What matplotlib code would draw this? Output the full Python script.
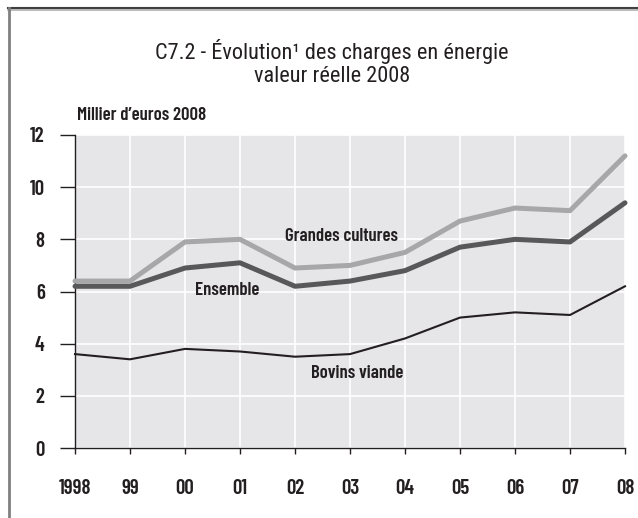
import matplotlib
matplotlib.use("Agg")
import matplotlib.pyplot as plt
from matplotlib.lines import Line2D

years = [1998, 1999, 2000, 2001, 2002, 2003, 2004, 2005, 2006, 2007, 2008]
year_labels = ["1998", "99", "00", "01", "02", "03", "04", "05", "06", "07", "08"]
grandes_cultures = [6.4, 6.4, 7.9, 8.0, 6.9, 7.0, 7.5, 8.7, 9.2, 9.1, 11.2]
ensemble = [6.2, 6.2, 6.9, 7.1, 6.2, 6.4, 6.8, 7.7, 8.0, 7.9, 9.4]
bovins_viande = [3.6, 3.4, 3.8, 3.7, 3.5, 3.6, 4.2, 5.0, 5.2, 5.1, 6.2]
y_ticks = [0, 2, 4, 6, 8, 10, 12]

W, H = 638, 518
fig = plt.figure(figsize=(W / 100, H / 100), dpi=100)
fig.patch.set_facecolor("white")

bold_font = ["Barlow Condensed", "DejaVu Sans"]
title_font = ["Roboto Condensed", "DejaVu Sans"]
ink = "#231f20"

x0, x1 = 75, 625
ytop, ybot = 135, 448
ax = fig.add_axes([x0 / W, (H - ybot) / H, (x1 - x0) / W, (ybot - ytop) / H])
ax.set_facecolor("#e6e6e8")
ax.set_xlim(1998, 2008)
ax.set_ylim(0, 12)
ax.set_xticks(years)
ax.set_xticklabels(year_labels)
ax.set_yticks(y_ticks)
for s in ["top", "right"]:
    ax.spines[s].set_visible(False)
for s in ["left", "bottom"]:
    ax.spines[s].set_color(ink)
    ax.spines[s].set_linewidth(1.0)
ax.grid(True, color="white", linewidth=1.2)
ax.set_axisbelow(True)
ax.tick_params(axis="y", direction="out", length=10.8, width=1.0, color=ink, pad=11)
ax.tick_params(axis="x", direction="out", length=4.3, width=1.0, color=ink, pad=18)
for lab in ax.get_xticklabels() + ax.get_yticklabels():
    lab.set_fontfamily(bold_font)
    lab.set_fontweight(600)
    lab.set_fontsize(15)
    lab.set_color(ink)

ax.plot(years, grandes_cultures, color="#a7a7a9", linewidth=3.6, solid_capstyle="round", clip_on=False, zorder=3)
ax.plot(years, ensemble, color="#58585a", linewidth=3.6, solid_capstyle="round", clip_on=False, zorder=4)
ax.plot(years, bovins_viande, color=ink, linewidth=1.5, clip_on=False, zorder=5)

lab_kw = dict(fontfamily=bold_font, fontweight=600, fontsize=13.5, color=ink, ha="center", va="center")
ax.text(2002.85, 8.1, "Grandes cultures", **lab_kw)
ax.text(2000.76, 6.05, "Ensemble", **lab_kw)
ax.text(2003.13, 2.84, "Bovins viande", **lab_kw)

fig.text(332 / W, 1 - 51 / H, "C7.2 - Évolution\u00b9 des charges en énergie", ha="center", va="center",
         fontsize=16, fontfamily=title_font, color=ink)
fig.text(332 / W, 1 - 76 / H, "valeur réelle 2008", ha="center", va="center",
         fontsize=16, fontfamily=title_font, color=ink)
fig.text(77 / W, 1 - 115 / H, "Millier d\u2019euros 2008", ha="left", va="center",
         fontsize=13.5, fontweight=600, fontfamily=bold_font, color=ink)

fig.add_artist(Line2D([8 / W, 1], [1 - 9.5 / H, 1 - 9.5 / H], color="#b0b0b0", linewidth=1.2, transform=fig.transFigure))
fig.add_artist(Line2D([8 / W, 1], [1 - 8 / H, 1 - 8 / H], color="#404040", linewidth=1.5, transform=fig.transFigure))
fig.add_artist(Line2D([9 / W, 9 / W], [0, 1 - 8 / H], color="#808080", linewidth=2, transform=fig.transFigure))

fig.savefig("out.png", dpi=100)
